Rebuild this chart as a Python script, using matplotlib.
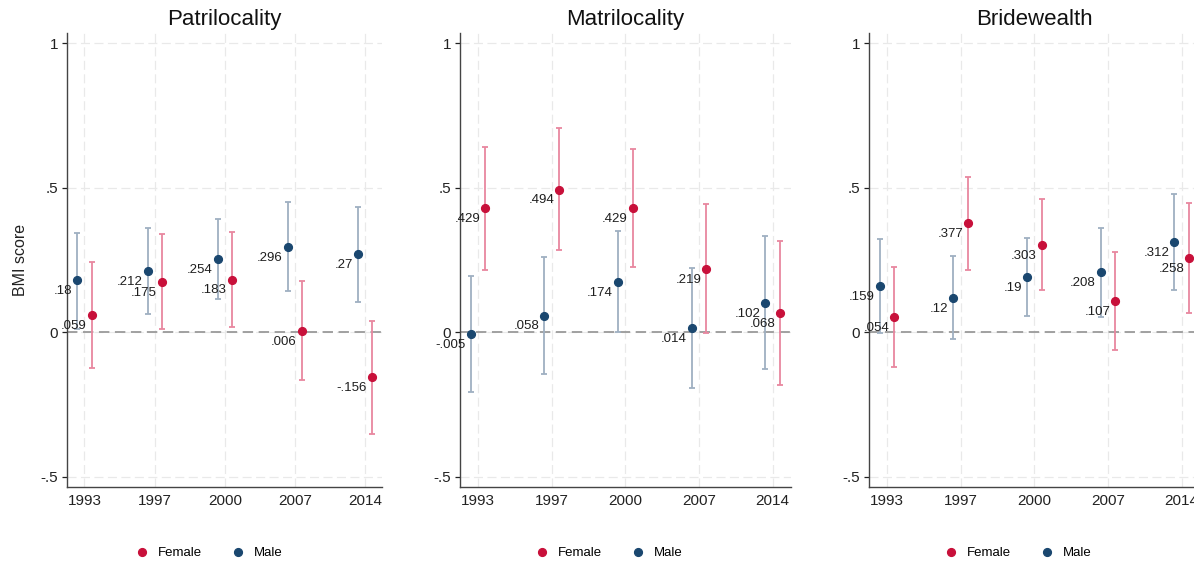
import numpy as np
import matplotlib.pyplot as plt
from matplotlib.lines import Line2D

plt.rcParams['font.family'] = ['Liberation Sans', 'DejaVu Sans']
plt.rcParams['lines.scale_dashes'] = False

years = ['1993', '1997', '2000', '2007', '2014']
titles = ['Patrilocality', 'Matrilocality', 'Bridewealth']

# point estimates and 95% CI bounds, by outcome and sex
patri_male = [0.18, 0.212, 0.254, 0.296, 0.27]
patri_male_lo = [0.012, 0.063, 0.117, 0.143, 0.104]
patri_male_hi = [0.344, 0.361, 0.394, 0.45, 0.435]
patri_female = [0.059, 0.175, 0.183, 0.006, -0.156]
patri_female_lo = [-0.124, 0.011, 0.02, -0.165, -0.351]
patri_female_hi = [0.242, 0.34, 0.346, 0.179, 0.04]

matri_male = [-0.005, 0.058, 0.174, 0.014, 0.102]
matri_male_lo = [-0.206, -0.145, 0.0, -0.194, -0.127]
matri_male_hi = [0.195, 0.262, 0.351, 0.222, 0.332]
matri_female = [0.429, 0.494, 0.429, 0.219, 0.068]
matri_female_lo = [0.217, 0.284, 0.225, -0.002, -0.181]
matri_female_hi = [0.643, 0.708, 0.635, 0.443, 0.317]

bride_male = [0.159, 0.12, 0.19, 0.208, 0.312]
bride_male_lo = [-0.002, -0.024, 0.056, 0.054, 0.146]
bride_male_hi = [0.322, 0.266, 0.325, 0.362, 0.479]
bride_female = [0.054, 0.377, 0.303, 0.107, 0.258]
bride_female_lo = [-0.119, 0.217, 0.145, -0.062, 0.067]
bride_female_hi = [0.228, 0.539, 0.463, 0.278, 0.448]

male_col = '#1a476f'
female_col = '#c8103a'
male_ci = '#9fb0c2'
female_ci = '#e8879f'


def stata_fmt(v):
    s = f'{v:.3f}'.rstrip('0').rstrip('.')
    if s.startswith('0.'):
        s = s[1:]
    elif s.startswith('-0.'):
        s = '-' + s[2:]
    return s


def draw_group(ax, x, est, lo, hi, col, cicol):
    est = np.array(est); lo = np.array(lo); hi = np.array(hi)
    ax.errorbar(x, est, yerr=[est - lo, hi - est], fmt='none', ecolor=cicol,
                elinewidth=1.3, capsize=2.4, capthick=1.3, zorder=3)
    ax.plot(x, est, 'o', color=col, ms=5.6, zorder=4)
    for xi, v in zip(x, est):
        ax.annotate(stata_fmt(v), (xi, v), xytext=(-3.6, -7.8), textcoords='offset points',
                    ha='right', va='center', fontsize=9.5, color='#1e1e1e', zorder=5)


fig = plt.figure(figsize=(11.94, 5.62), dpi=100)
lefts = [67.3 / 1194, 460 / 1194, 869 / 1194]
widths = [315 / 1194, 330.7 / 1194, 330.7 / 1194]

panels = [
    (patri_male, patri_male_lo, patri_male_hi, patri_female, patri_female_lo, patri_female_hi),
    (matri_male, matri_male_lo, matri_male_hi, matri_female, matri_female_lo, matri_female_hi),
    (bride_male, bride_male_lo, bride_male_hi, bride_female, bride_female_lo, bride_female_hi),
]

pos = np.arange(1, len(years) + 1)
for i, (m, mlo, mhi, f, flo, fhi) in enumerate(panels):
    ax = fig.add_axes([lefts[i], 0.1329, widths[i], 0.8084])
    ax.set_xlim(0.755, 5.245)
    ax.set_ylim(-0.536, 1.036)
    ax.set_axisbelow(True)
    ax.grid(True, color='#e9e9e9', linestyle=(0, (6.5, 3.2)), linewidth=0.9)
    ax.axhline(0, color='#9a9a9a', linestyle=(0, (7.5, 4)), linewidth=1.3, zorder=2)

    draw_group(ax, pos - 0.1, m, mlo, mhi, male_col, male_ci)
    draw_group(ax, pos + 0.1, f, flo, fhi, female_col, female_ci)

    ax.set_xticks(pos)
    ax.set_xticklabels(years)
    ax.set_yticks([-0.5, 0, 0.5, 1])
    ax.set_yticklabels(['-.5', '0', '.5', '1'])
    ax.tick_params(axis='x', length=0, pad=5, labelsize=11, colors='#222222')
    ax.tick_params(axis='y', length=3.5, width=0.9, pad=3, labelsize=11, colors='#222222')
    for side in ['top', 'right']:
        ax.spines[side].set_visible(False)
    for side in ['left', 'bottom']:
        ax.spines[side].set_color('#444444')
        ax.spines[side].set_linewidth(1.0)

    ax.set_title(titles[i], fontsize=16, color='#111111', pad=6)
    if i == 0:
        ax.set_ylabel('BMI score', fontsize=11.5, color='#222222')
        ax.yaxis.set_label_coords(-0.125, 0.5)

    handles = [Line2D([], [], marker='o', ls='none', color=female_col, ms=5.6),
               Line2D([], [], marker='o', ls='none', color=male_col, ms=5.6)]
    ax.legend(handles, ['Female', 'Male'], loc='center', bbox_to_anchor=(0.45, -0.145),
              ncol=2, frameon=False, fontsize=9.5, handlelength=1.0, handletextpad=0.7,
              columnspacing=2.2)

fig.savefig('out.png', dpi=100)
